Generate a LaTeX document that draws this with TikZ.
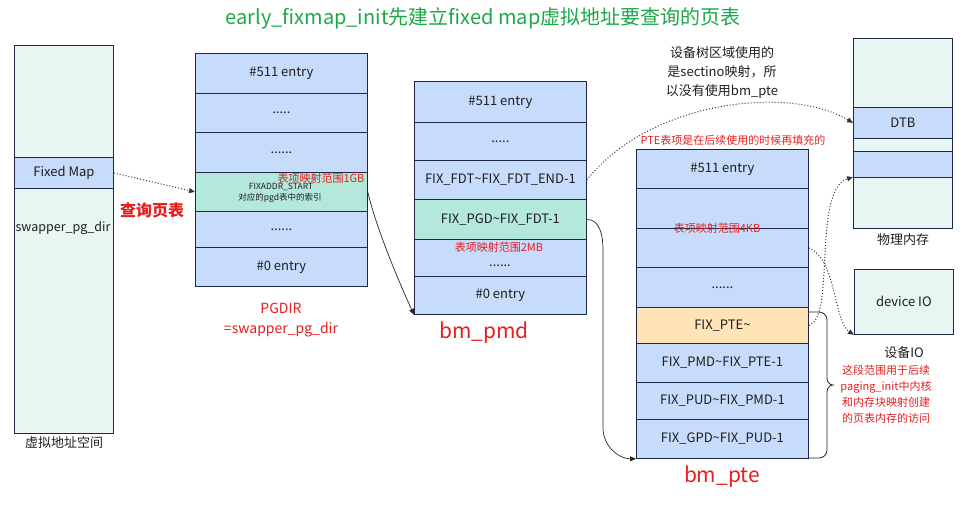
\documentclass[tikz,border=0pt]{standalone}
\usepackage{fontspec}
\setmainfont{Noto Sans CJK SC}
\usetikzlibrary{arrows.meta}
\definecolor{cellblue}{RGB}{199,220,250}
\definecolor{cellgreen}{RGB}{180,232,219}
\definecolor{cellorange}{RGB}{255,228,184}
\definecolor{celllight}{RGB}{232,246,243}
\definecolor{bordc}{RGB}{30,40,70}
\definecolor{redc}{RGB}{230,30,30}
\definecolor{titlec}{RGB}{28,168,72}
\definecolor{txtc}{RGB}{30,30,30}
\begin{document}
\begin{tikzpicture}[x=1pt,y=-1pt,
  cell/.style={draw=bordc,line width=0.8pt,inner sep=0pt,anchor=north west,text=txtc,
    font=\fontsize{13}{15}\selectfont,minimum width=172},
  pcell/.style={cell,minimum width=99},
  blue/.style={fill=cellblue},
  green/.style={fill=cellgreen},
  orange/.style={fill=cellorange},
  light/.style={fill=celllight},
  redsmall/.style={text=redc,font=\fontsize{11}{12}\selectfont,inner sep=0pt},
  plain/.style={text=txtc,font=\fontsize{13}{19}\selectfont,inner sep=0pt,align=center},
  dotarrow/.style={dotted,line width=1pt,draw=black!80,-{Triangle[length=6pt,width=5pt]}},
  solidarrow/.style={line width=0.7pt,draw=black!85,-{Triangle[length=6pt,width=5pt]}},
  bracestyle/.style={line width=0.8pt,draw=black!85}]
\useasboundingbox (0,0) rectangle (965,507);

% title
\node[font=\fontsize{20}{22}\selectfont,text=titlec,inner sep=0pt] (title) at (483,18)
  {early\_fixmap\_init先建立fixed map虚拟地址要查询的页表};

% virtual address space
\node[pcell,light,minimum height=112] (v1) at (14,45) {};
\node[pcell,blue,minimum height=31] (v2) at (14,157) {Fixed Map};
\node[pcell,light,minimum height=245] (v3) at (14,188) {};
\node[plain,font=\fontsize{12.5}{15}\selectfont] (swp) at (63,228) {swapper\_pg\_dir};
\node[plain] (vlabel) at (64,443) {虚拟地址空间};
\node[text=redc,font=\bfseries\fontsize{16}{18}\selectfont,inner sep=0pt] (query) at (152,210) {查询页表};

% PGDIR
\node[cell,blue,minimum height=40] (p1) at (195,53) {\#511 entry};
\node[cell,blue,minimum height=39] (p2) at (195,93) {.....};
\node[cell,blue,minimum height=40] (p3) at (195,132) {......};
\node[cell,green,minimum height=39] (p4) at (195,172) {};
\node[cell,blue,minimum height=36] (p5) at (195,211) {......};
\node[cell,blue,minimum height=39] (p6) at (195,247) {\#0 entry};
\node[text=txtc,font=\fontsize{8.5}{10}\selectfont,inner sep=0pt] (fixs) at (281,187) {FIXADDR\_START};
\node[text=txtc,font=\fontsize{8.5}{10}\selectfont,inner sep=0pt] (fixi) at (280,198) {对应的pgd表中的索引};
\node[redsmall] (r1g) at (321,178) {表项映射范围1GB};
\node[text=redc,font=\fontsize{14}{20}\selectfont,inner sep=0pt,align=center] (pgdl) at (281,320) {PGDIR\\=swapper\_pg\_dir};

% bm_pmd
\node[cell,blue,minimum height=41] (m1) at (414,81) {\#511 entry};
\node[cell,blue,minimum height=38] (m2) at (414,122) {.....};
\node[cell,blue,minimum height=39] (m3) at (414,160) {FIX\_FDT\textasciitilde FIX\_FDT\_END-1};
\node[cell,green,minimum height=40] (m4) at (414,199) {FIX\_PGD\textasciitilde FIX\_FDT-1};
\node[cell,blue,minimum height=37] (m5) at (414,239) {};
\node[cell,blue,minimum height=38] (m6) at (414,276) {\#0 entry};
\node[redsmall] (r2m) at (499,247) {表项映射范围2MB};
\node[plain] (mdots) at (500,266) {......};
\node[text=redc,font=\fontsize{21}{24}\selectfont,inner sep=0pt] (pmdl) at (484,333) {bm\_pmd};

% bm_pte
\node[cell,blue,minimum height=39] (t1) at (636,149) {\#511 entry};
\node[cell,blue,minimum height=40] (t2) at (636,188) {};
\node[cell,blue,minimum height=39] (t3) at (636,228) {};
\node[cell,blue,minimum height=40] (t4) at (636,267) {......};
\node[cell,orange,minimum height=36] (t5) at (636,307) {FIX\_PTE\textasciitilde};
\node[cell,blue,minimum height=39] (t6) at (636,343) {FIX\_PMD\textasciitilde FIX\_PTE-1};
\node[cell,blue,minimum height=37] (t7) at (636,382) {FIX\_PUD\textasciitilde FIX\_PMD-1};
\node[cell,blue,minimum height=39] (t8) at (636,419) {FIX\_GPD\textasciitilde FIX\_PUD-1};
\node[redsmall] (r4k) at (717,228) {表项映射范围4KB};
\node[redsmall] (pten) at (733,140) {PTE表项是在后续使用的时候再填充的};
\node[text=redc,font=\fontsize{21}{24}\selectfont,inner sep=0pt] (ptel) at (722,477) {bm\_pte};

% physical memory
\node[pcell,light,minimum height=69] (ph1) at (853,38) {};
\node[pcell,blue,minimum height=31] (ph2) at (853,107) {DTB};
\node[pcell,light,minimum height=13] (ph3) at (853,138) {};
\node[pcell,blue,minimum height=26] (ph4) at (853,151) {};
\node[pcell,light,minimum height=51] (ph5) at (853,177) {};
\node[plain] (phl) at (903,240) {物理内存};

% device IO
\node[pcell,light,minimum height=65] (dio) at (854,269) {device IO};
\node[plain] (diol) at (904,353) {设备IO};
\node[text=redc,font=\fontsize{11}{16}\selectfont,inner sep=0pt,align=center] (note) at (886,394)
  {这段范围用于后续\\paging\_init中内核\\和内存块映射创建\\的页表内存的访问};

% device tree note
\node[plain] (dtn) at (722,72) {设备树区域使用的\\是sectino映射，所\\以没有使用bm\_pte};

% connectors
\coordinate (va) at (603,250);
\coordinate (vb) at (603,428);
\draw[dotarrow] (v2.east) -- (p4.west);
\draw[solidarrow] (p4.east) .. controls +(8,35) and +(-16,-35) .. (m6.south west);
\draw[solidarrow] (m4.east) to[out=0,in=90] (va) -- (vb) to[out=-90,in=180] (t8.south west);
\draw[dotarrow] (m3.east) .. controls (650,100) and (790,85) .. (ph2.west);
\draw[dotarrow] (t3.east) .. controls (836,258) and (834,322) .. (dio.south west);
\draw[dotarrow] (t5.east) .. controls (836,318) and (812,190) .. (ph5.north west);

% brace
\draw[bracestyle] (808,312) -- (819,312) to[out=0,in=90] (827,320) -- (827,378)
  to[out=-90,in=180] (833,385) to[out=180,in=90] (827,392) -- (827,450)
  to[out=-90,in=0] (819,458) -- (808,458);
\end{tikzpicture}
\end{document}
